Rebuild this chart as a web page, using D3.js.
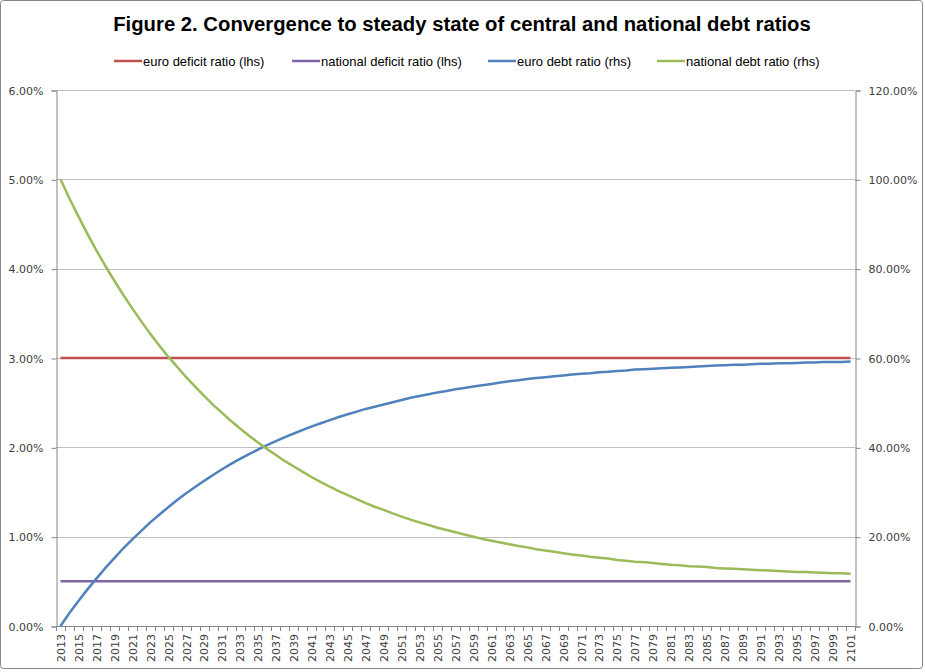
<!DOCTYPE html>
<html>
<head>
<meta charset="utf-8">
<script src="https://cdn.jsdelivr.net/npm/d3@7.9.0/dist/d3.min.js"></script>
<style>
  body { margin: 0; background: #fff; }
  svg { display: block; }
</style>
</head>
<body>
<div id="chart"></div>
<script>
// categories (years)
const years = [
  2013, 2014, 2015, 2016, 2017, 2018, 2019, 2020, 2021, 2022,
  2023, 2024, 2025, 2026, 2027, 2028, 2029, 2030, 2031, 2032,
  2033, 2034, 2035, 2036, 2037, 2038, 2039, 2040, 2041, 2042,
  2043, 2044, 2045, 2046, 2047, 2048, 2049, 2050, 2051, 2052,
  2053, 2054, 2055, 2056, 2057, 2058, 2059, 2060, 2061, 2062,
  2063, 2064, 2065, 2066, 2067, 2068, 2069, 2070, 2071, 2072,
  2073, 2074, 2075, 2076, 2077, 2078, 2079, 2080, 2081, 2082,
  2083, 2084, 2085, 2086, 2087, 2088, 2089, 2090, 2091, 2092,
  2093, 2094, 2095, 2096, 2097, 2098, 2099, 2100, 2101
];

// lhs series (% of GDP)
const euroDeficit = [
  3, 3, 3, 3, 3, 3, 3, 3, 3, 3, 3, 3, 3, 3, 3, 3, 3, 3, 3, 3,
  3, 3, 3, 3, 3, 3, 3, 3, 3, 3, 3, 3, 3, 3, 3, 3, 3, 3, 3, 3,
  3, 3, 3, 3, 3, 3, 3, 3, 3, 3, 3, 3, 3, 3, 3, 3, 3, 3, 3, 3,
  3, 3, 3, 3, 3, 3, 3, 3, 3, 3, 3, 3, 3, 3, 3, 3, 3, 3, 3, 3,
  3, 3, 3, 3, 3, 3, 3, 3, 3
];
const nationalDeficit = [
  0.5, 0.5, 0.5, 0.5, 0.5, 0.5, 0.5, 0.5, 0.5, 0.5, 0.5, 0.5, 0.5, 0.5, 0.5,
  0.5, 0.5, 0.5, 0.5, 0.5, 0.5, 0.5, 0.5, 0.5, 0.5, 0.5, 0.5, 0.5, 0.5, 0.5,
  0.5, 0.5, 0.5, 0.5, 0.5, 0.5, 0.5, 0.5, 0.5, 0.5, 0.5, 0.5, 0.5, 0.5, 0.5,
  0.5, 0.5, 0.5, 0.5, 0.5, 0.5, 0.5, 0.5, 0.5, 0.5, 0.5, 0.5, 0.5, 0.5, 0.5,
  0.5, 0.5, 0.5, 0.5, 0.5, 0.5, 0.5, 0.5, 0.5, 0.5, 0.5, 0.5, 0.5, 0.5, 0.5,
  0.5, 0.5, 0.5, 0.5, 0.5, 0.5, 0.5, 0.5, 0.5, 0.5, 0.5, 0.5, 0.5, 0.5
];

// rhs series (% of GDP)
const euroDebt = [
  0.0, 2.9, 5.6, 8.2, 10.6, 13.0, 15.2, 17.4, 19.4, 21.3,
  23.2, 24.9, 26.6, 28.2, 29.7, 31.1, 32.5, 33.8, 35.1, 36.3,
  37.4, 38.5, 39.5, 40.5, 41.4, 42.3, 43.1, 43.9, 44.7, 45.4,
  46.1, 46.8, 47.4, 48.0, 48.6, 49.1, 49.6, 50.1, 50.6, 51.1,
  51.5, 51.9, 52.3, 52.6, 53.0, 53.3, 53.6, 53.9, 54.2, 54.5,
  54.8, 55.0, 55.3, 55.5, 55.7, 55.9, 56.1, 56.3, 56.5, 56.6,
  56.8, 56.9, 57.1, 57.2, 57.4, 57.5, 57.6, 57.7, 57.8, 57.9,
  58.0, 58.1, 58.2, 58.3, 58.4, 58.5, 58.5, 58.6, 58.7, 58.7,
  58.8, 58.8, 58.9, 59.0, 59.0, 59.1, 59.1, 59.1, 59.2
];
const nationalDebt = [
  100.0, 95.7, 91.7, 87.8, 84.1, 80.6, 77.3, 74.1, 71.1, 68.2,
  65.4, 62.8, 60.3, 58.0, 55.7, 53.6, 51.5, 49.5, 47.7, 45.9,
  44.2, 42.6, 41.1, 39.6, 38.3, 36.9, 35.7, 34.5, 33.3, 32.2,
  31.2, 30.2, 29.3, 28.4, 27.5, 26.7, 26.0, 25.2, 24.5, 23.8,
  23.2, 22.6, 22.0, 21.5, 21.0, 20.5, 20.0, 19.5, 19.1, 18.7,
  18.3, 17.9, 17.6, 17.2, 16.9, 16.6, 16.3, 16.0, 15.8, 15.5,
  15.3, 15.1, 14.8, 14.6, 14.4, 14.3, 14.1, 13.9, 13.7, 13.6,
  13.4, 13.3, 13.2, 13.0, 12.9, 12.8, 12.7, 12.6, 12.5, 12.4,
  12.3, 12.2, 12.1, 12.1, 12.0, 11.9, 11.8, 11.8, 11.7
];

// axis ticks
const leftTicks = [0, 1, 2, 3, 4, 5, 6];
const rightTicks = [0, 20, 40, 60, 80, 100, 120];
const yearLabels = years.filter((d, i) => i % 2 === 0);

const series = [
  { name: 'euro deficit ratio (lhs)', values: euroDeficit, axis: 'left', color: '#C0504D' },
  { name: 'national deficit ratio (lhs)', values: nationalDeficit, axis: 'left', color: '#8064A2' },
  { name: 'euro debt ratio (rhs)', values: euroDebt, axis: 'right', color: '#4F81BD' },
  { name: 'national debt ratio (rhs)', values: nationalDebt, axis: 'right', color: '#9BBB59' }
];

const width = 925, height = 672;
const margin = { top: 90, right: 70, bottom: 46, left: 56 };
const x0 = margin.left, x1 = width - margin.right;
const y0 = height - margin.bottom, y1 = margin.top;

const svg = d3.select('#chart').append('svg')
  .attr('width', width)
  .attr('height', height);

// chart frame
svg.append('rect')
  .attr('x', 0.5).attr('y', 0.5)
  .attr('width', width - 3).attr('height', height - 4)
  .attr('rx', 3)
  .attr('fill', '#fff')
  .attr('stroke', '#868686');

// scales
const x = d3.scalePoint().domain(years).range([x0, x1]).padding(0.5);
const xBand = d3.scaleBand().domain(years).range([x0, x1]);
const yL = d3.scaleLinear().domain([0, 6]).range([y0, y1]);
const yR = d3.scaleLinear().domain([0, 120]).range([y0, y1]);

// gridlines
svg.append('g')
  .selectAll('line')
  .data(leftTicks.slice(1))
  .join('line')
  .attr('x1', x0).attr('x2', x1)
  .attr('y1', d => Math.round(yL(d)) + 0.5)
  .attr('y2', d => Math.round(yL(d)) + 0.5)
  .attr('stroke', '#BFBFBF');

const axisColor = '#868686';
const textColor = '#404040';

// left axis
const gL = svg.append('g')
  .attr('transform', `translate(${x0 + 0.5},0.5)`)
  .call(d3.axisLeft(yL).tickValues(leftTicks).tickSizeOuter(0).tickSize(5).tickPadding(8)
    .tickFormat(d => d.toFixed(2) + '%'));

// right axis
const gR = svg.append('g')
  .attr('transform', `translate(${x1 + 0.5},0.5)`)
  .call(d3.axisRight(yR).tickValues(rightTicks).tickSizeOuter(0).tickSize(5).tickPadding(8)
    .tickFormat(d => d.toFixed(2) + '%'));

[gL, gR].forEach(g => {
  g.selectAll('.domain, .tick line').attr('stroke', axisColor);
  g.selectAll('text')
    .attr('fill', textColor)
    .style('font-family', '"DejaVu Sans", Verdana, sans-serif')
    .style('font-size', '11px');
});

// bottom axis: tick marks between categories
const gB = svg.append('g');
gB.append('line')
  .attr('x1', x0).attr('x2', x1 + 1)
  .attr('y1', y0 + 0.5).attr('y2', y0 + 0.5)
  .attr('stroke', axisColor);
gB.selectAll('line.tick')
  .data(years.concat(['end']))
  .join('line')
  .attr('class', 'tick')
  .attr('x1', d => Math.round(d === 'end' ? x1 : xBand(d)) + 0.5)
  .attr('x2', d => Math.round(d === 'end' ? x1 : xBand(d)) + 0.5)
  .attr('y1', y0).attr('y2', y0 + 5)
  .attr('stroke', axisColor);

// year labels, rotated
const gX = svg.append('g')
  .attr('transform', `translate(0,${y0})`)
  .call(d3.axisBottom(x).tickValues(yearLabels).tickSize(0).tickPadding(0));
gX.select('.domain').remove();
gX.selectAll('text')
  .attr('transform', 'rotate(-90)')
  .attr('x', -8)
  .attr('y', 0)
  .attr('dy', '0.35em')
  .attr('text-anchor', 'end')
  .attr('fill', textColor)
  .style('font-family', '"DejaVu Sans", Verdana, sans-serif')
  .style('font-size', '11px');

// lines
const line = scale => d3.line()
  .x((d, i) => x(years[i]))
  .y(d => scale(d));

svg.append('g')
  .selectAll('path')
  .data(series)
  .join('path')
  .attr('d', s => line(s.axis === 'left' ? yL : yR)(s.values))
  .attr('fill', 'none')
  .attr('stroke', s => s.color)
  .attr('stroke-width', 2.5)
  .attr('stroke-linejoin', 'round');

// title
svg.append('text')
  .attr('x', 462)
  .attr('y', 31)
  .attr('text-anchor', 'middle')
  .style('font-family', '"Liberation Sans Narrow", "Arial Narrow", sans-serif')
  .style('font-weight', 'bold')
  .style('font-size', '20.3px')
  .attr('fill', '#000')
  .text('Figure 2. Convergence to steady state of central and national debt ratios');

// legend
const legendX = [114, 292, 488, 657];
const legend = svg.append('g')
  .selectAll('g')
  .data(series)
  .join('g')
  .attr('transform', (d, i) => `translate(${legendX[i]},61)`);
legend.append('line')
  .attr('x1', 0).attr('x2', 28)
  .attr('stroke', d => d.color)
  .attr('stroke-width', 2.5);
legend.append('text')
  .attr('x', 29)
  .attr('dy', '0.35em')
  .attr('fill', '#000')
  .style('font-family', '"Liberation Sans", Arial, sans-serif')
  .style('font-size', '13px')
  .text(d => d.name);
</script>
</body>
</html>
